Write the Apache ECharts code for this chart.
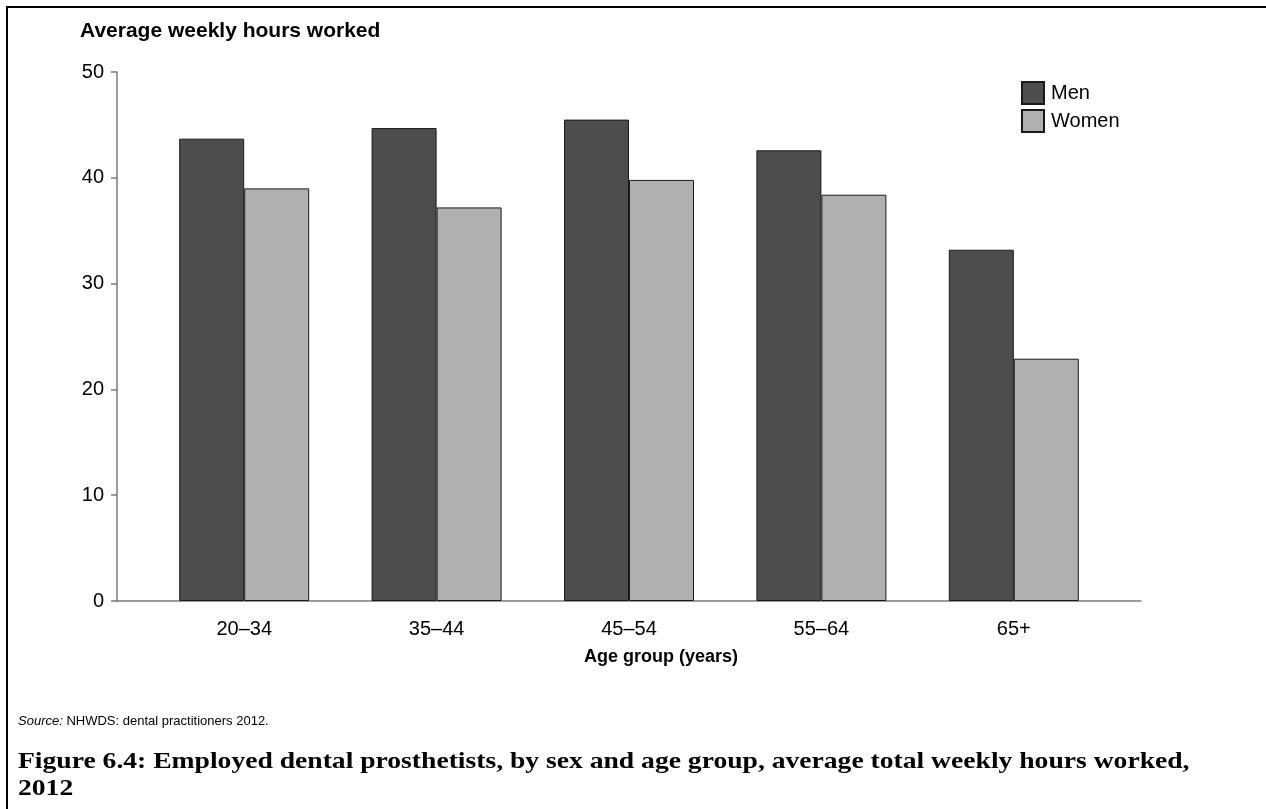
<!DOCTYPE html>
<html>
<head>
<meta charset="utf-8">
<script src="https://cdn.jsdelivr.net/npm/echarts@6/dist/echarts.min.js"></script>
<style>
html,body{margin:0;padding:0;background:#fff;}
#chart{width:1266px;height:809px;}
</style>
</head>
<body>
<div id="chart"></div>
<script>
const categories = ['20–34', '35–44', '45–54', '55–64', '65+'];
const men = [43.7, 44.7, 45.5, 42.6, 33.2];
const women = [39.0, 37.2, 39.8, 38.4, 22.9];
const yTicks = { min: 0, max: 50, interval: 10 };
const yTitle = 'Average weekly hours worked';
const xTitle = 'Age group (years)';
const sourceText = 'NHWDS: dental practitioners 2012.';
const captionText = 'Figure 6.4: Employed dental prosthetists, by sex and age group, average total weekly hours worked,\n2012';

const sans = '"Liberation Sans", Arial, sans-serif';
const serif = '"Liberation Serif", "DejaVu Serif", serif';

const chart = echarts.init(document.getElementById('chart'), null, { renderer: 'canvas' });
chart.setOption({
  backgroundColor: '#fff',
  animation: false,
  title: {
    text: yTitle, left: 75, top: 16,
    textStyle: { fontFamily: sans, fontSize: 21, fontWeight: 'bold', color: '#000' }
  },
  legend: {
    data: ['Men', 'Women'],
    orient: 'vertical', left: 1016, top: 76,
    itemWidth: 22, itemHeight: 22, itemGap: 4,
    icon: 'rect',
    textStyle: { fontFamily: sans, fontSize: 20, color: '#000', padding: [0, 0, 0, 2] }
  },
  grid: [
    { left: 117, right: 125, top: 72, bottom: 208 },
    { left: 148, right: 156, top: 72, bottom: 208 }
  ],
  xAxis: [
    { type: 'value', gridIndex: 0, min: 0, max: 1, show: true,
      axisLine: { show: true, onZero: false, lineStyle: { color: '#7a7a7a', width: 1.5 } },
      axisTick: { show: false }, axisLabel: { show: false }, splitLine: { show: false } },
    { type: 'category', gridIndex: 1, data: categories,
      axisLine: { show: false }, axisTick: { show: false },
      axisLabel: { fontFamily: sans, fontSize: 20, color: '#000', margin: 18 },
      name: xTitle, nameLocation: 'middle', nameGap: 47,
      nameTextStyle: { fontFamily: sans, fontSize: 18, fontWeight: 'bold', color: '#000', padding: [0, 0, 0, 64] } }
  ],
  yAxis: [
    { type: 'value', gridIndex: 0, min: yTicks.min, max: yTicks.max, interval: yTicks.interval,
      axisLine: { show: true, lineStyle: { color: '#7a7a7a', width: 1.5 } },
      axisTick: { show: true, length: 6, lineStyle: { color: '#7a7a7a', width: 1.5 } },
      axisLabel: { fontFamily: sans, fontSize: 20, color: '#000', margin: 13 },
      splitLine: { show: false } },
    { type: 'value', gridIndex: 1, min: yTicks.min, max: yTicks.max, interval: yTicks.interval, show: false }
  ],
  series: [
    { name: 'Men', type: 'bar', xAxisIndex: 1, yAxisIndex: 1, data: men,
      barWidth: 65, barGap: '0%',
      itemStyle: { color: '#4d4d4d', borderColor: '#1a1a1a', borderWidth: 1 } },
    { name: 'Women', type: 'bar', xAxisIndex: 1, yAxisIndex: 1, data: women,
      barWidth: 65, barGap: '0%',
      itemStyle: { color: '#b0b0b0', borderColor: '#1a1a1a', borderWidth: 1 } }
  ],
  graphic: [
    { type: 'rect', x: 7, y: 7, shape: { x: 0, y: 0, width: 1300, height: 900 },
      style: { fill: null, stroke: '#000', lineWidth: 2 }, silent: true },
    { type: 'text', x: 18, y: 715,
      style: { text: '{i|Source:} ' + sourceText, fill: '#000', font: '13px ' + sans,
        rich: { i: { fontStyle: 'italic', fontFamily: sans, fontSize: 13 } } } },
    { type: 'text', x: 18, y: 748, scaleX: 1.15,
      style: { text: captionText, fill: '#000', font: 'bold 24px ' + serif, lineHeight: 27 } }
  ]
});
</script>
</body>
</html>
